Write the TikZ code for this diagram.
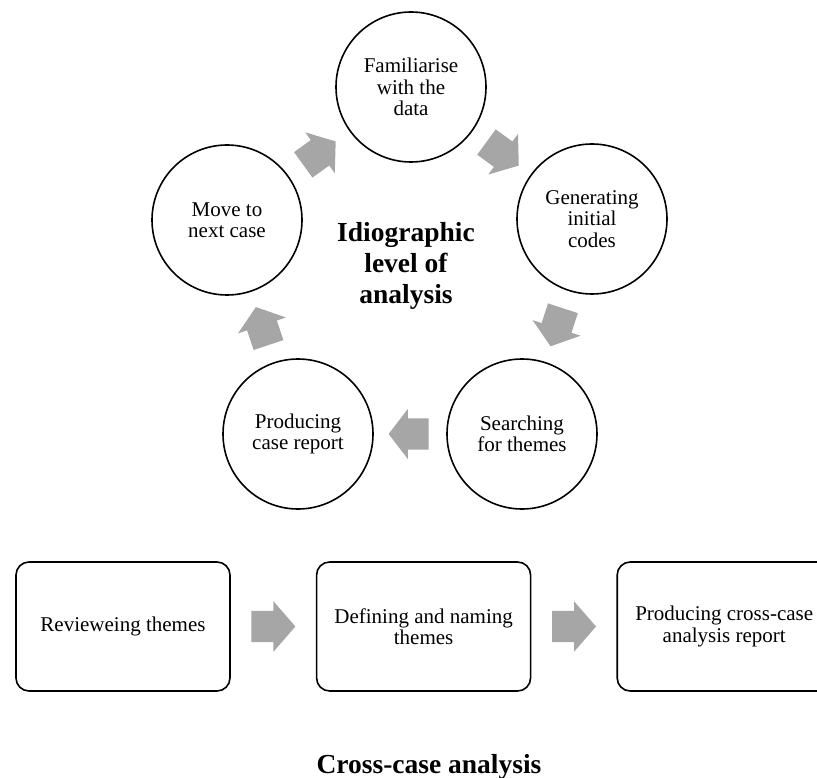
\documentclass[tikz,border=0pt]{standalone}
\usepackage{fontspec}
\setmainfont{Liberation Serif}
\usepackage{xcolor}
\usetikzlibrary{positioning,shapes.arrows}

\definecolor{flowgray}{RGB}{166,166,166}

\begin{document}
\begin{tikzpicture}[x=1pt, y=-1pt,
    stage/.style={draw, line width=1.6pt, circle, minimum size=150pt, inner sep=0pt,
      align=center, font=\fontsize{21}{21.5}\selectfont},
    phase/.style={draw, line width=1.6pt, rounded corners=13pt, minimum width=214pt,
      minimum height=129pt, inner sep=0pt, align=center, font=\fontsize{21}{21.5}\selectfont},
    flow/.style={single arrow, fill=flowgray, draw=none, inner sep=0pt,
      text height=31pt, text depth=0pt,
      minimum width=50pt, minimum height=40pt, single arrow head extend=9.5pt,
      single arrow tip angle=105, sloped, allow upside down, anchor=tail, pos=0.24},
    heading/.style={align=center, font=\fontsize{27.5}{31}\selectfont\bfseries}]
  \useasboundingbox (0,0) rectangle (817,778);

  % Idiographic cycle
  \node[stage] (familiarise) at (411,87)  {Familiarise\\with the\\data};
  \node[stage] (codes)       at (592,219) {Generating\\initial\\codes};
  \node[stage] (search)      at (522,434) {Searching\\for themes};
  \node[stage] (report)      at (298,434) {Producing\\case report};
  \node[stage] (next)        at (227,220) {Move to\\next case};
  \node[heading] (idio) at (406,266) {Idiographic\\level of\\analysis};

  \path[allow upside down] (familiarise) -- (codes)  node[flow] {};
  \path[allow upside down] (codes) -- (search)       node[flow] {};
  \path[allow upside down] (search) -- (report)      node[flow] {};
  \path[allow upside down] (report) -- (next)        node[flow] {};
  \path[allow upside down] (next) -- (familiarise)   node[flow] {};

  % Cross-case row
  \node[phase] (review) at (123,626.5) {Revieweing themes};
  \node[phase, right=85pt of review] (define) {Defining and naming\\themes};
  \node[phase, right=85pt of define] (crossreport) {Producing cross-case\\analysis report};

  \path (review) -- (define)      node[flow, minimum height=44pt, single arrow tip angle=98] {};
  \path (define) -- (crossreport) node[flow, minimum height=44pt, single arrow tip angle=98] {};

  \node[heading, anchor=base] (cross) at (429,773) {Cross-case analysis};
\end{tikzpicture}
\end{document}
